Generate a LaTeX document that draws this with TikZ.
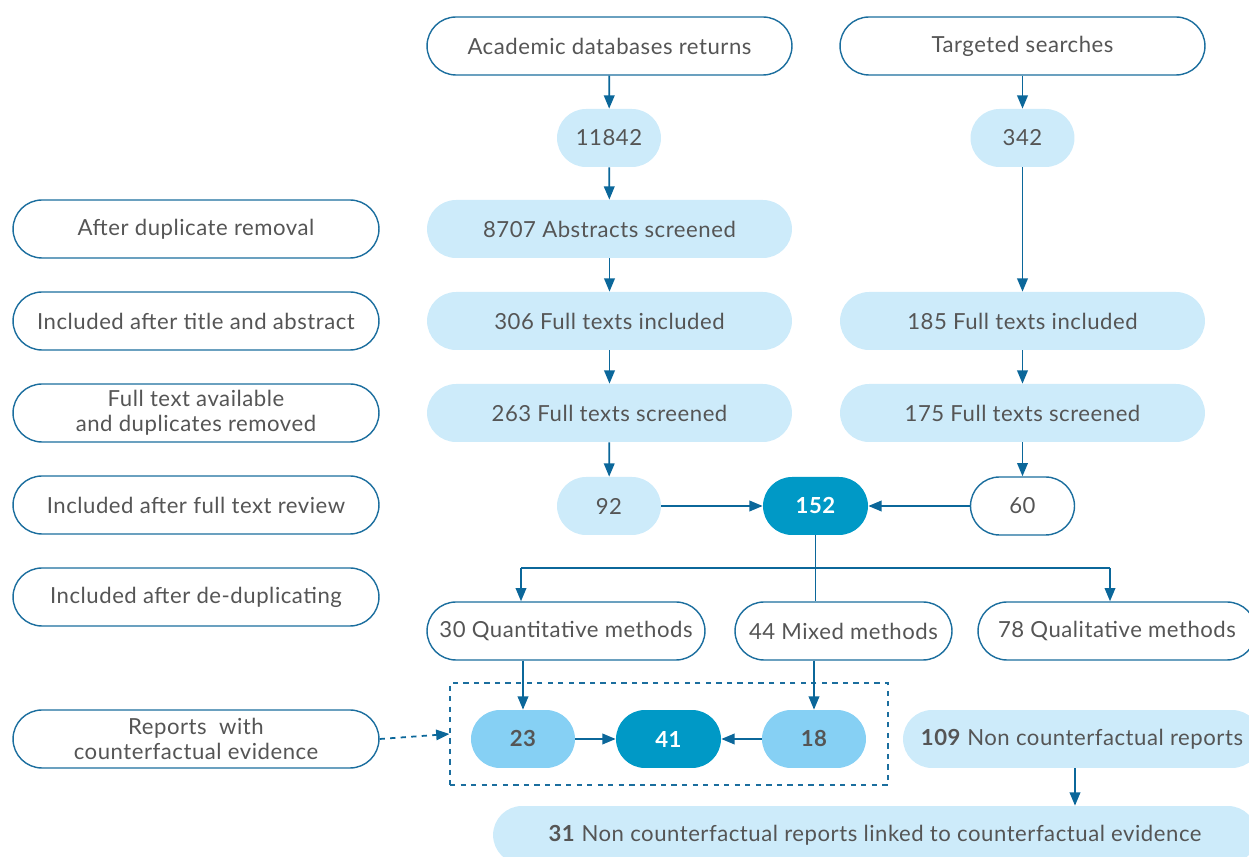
\documentclass[tikz,border=0pt]{standalone}
\usepackage{fontspec}
\setmainfont{Lato}[LetterSpace=2.4]
\usetikzlibrary{arrows.meta}
\definecolor{edgec}{HTML}{1B6E9E}
\definecolor{arrc}{HTML}{0B679A}
\definecolor{lightb}{HTML}{CDEBFA}
\definecolor{midb}{HTML}{86D0F4}
\definecolor{darkb}{HTML}{0099C6}
\definecolor{txtc}{HTML}{555555}
\begin{document}
\begin{tikzpicture}[x=0.02cm,y=-0.02cm,
 box/.style={rectangle, rounded corners=0.58cm, minimum height=1.16cm, inner sep=0pt, text=txtc, font=\fontsize{12.6}{14.5}\selectfont, align=center},
 outl/.style={box, draw=edgec, line width=0.8pt, fill=white},
 lfill/.style={box, fill=lightb},
 mfill/.style={box, fill=midb, font=\fontsize{12.6}{14.5}\selectfont\bfseries},
 dfill/.style={box, fill=darkb, text=white, font=\fontsize{12.6}{14.5}\selectfont\bfseries},
 arw/.style={draw=arrc, line width=1pt, -{Triangle[length=7.5pt,width=6pt]}},
 ln/.style={draw=arrc, line width=1pt},
]
\useasboundingbox (0,0) rectangle (1249,857);
\clip (0,0) rectangle (1249,857);

% top sources
\node[outl, minimum width=7.3cm] (acad) at (609.5,46) {Academic databases returns};
\node[outl, minimum width=7.3cm] (targ) at (1022.5,46) {Targeted searches};
\node[lfill, minimum width=2.08cm] (n11842) at (609,138) {11842};
\node[lfill, minimum width=2.08cm] (n342) at (1022.5,138) {342};

% left labels
\node[outl, minimum width=7.32cm] (l1) at (196,229) {After duplicate removal};
\node[outl, minimum width=7.32cm] (l2) at (196,321) {Included after title and abstract};
\node[outl, minimum width=7.32cm] (l3) at (196,413) {Full text available\\and duplicates removed};
\node[outl, minimum width=7.32cm] (l4) at (196,505) {Included after full text review};
\node[outl, minimum width=7.32cm] (l5) at (196,597) {Included after de-duplicating};
\node[outl, minimum width=7.32cm] (l6) at (196,739) {Reports\ \ with\\counterfactual evidence};

% academic column
\node[lfill, minimum width=7.3cm] (abs) at (609.5,229) {8707 Abstracts screened};
\node[lfill, minimum width=7.3cm] (fti) at (609.5,321) {306 Full texts included};
\node[lfill, minimum width=7.3cm] (fts) at (609.5,413) {263 Full texts screened};
\node[lfill, minimum width=2.08cm] (n92) at (609,506) {92};

% targeted column
\node[lfill, minimum width=7.3cm] (tfti) at (1022.5,321) {185 Full texts included};
\node[lfill, minimum width=7.3cm] (tfts) at (1022.5,413) {175 Full texts screened};
\node[outl, minimum width=2.08cm] (n60) at (1022.5,506) {60};

\node[dfill, minimum width=2.1cm] (n152) at (815.5,506) {152};

% methods
\node[outl, minimum width=5.56cm] (quant) at (566,631) {30 Quantitative methods};
\node[outl, minimum width=4.34cm] (mixed) at (843.5,631) {44 Mixed methods};
\node[outl, minimum width=5.56cm] (qual) at (1117,631) {78 Qualitative methods};

% dashed box and counterfactual
\node[draw=edgec, dashed, line width=0.8pt, rectangle, minimum width=8.76cm, minimum height=2.04cm, inner sep=0pt] (dbox) at (669,734) {};
\node[mfill, minimum width=2.08cm] (n23) at (523,739) {23};
\node[dfill, minimum width=2.1cm] (n41) at (668.5,739) {41};
\node[mfill, minimum width=2.08cm] (n18) at (814,739) {18};

\node[lfill, minimum width=7.16cm] (n109) at (1082,739) {\textbf{109} Non counterfactual reports};
\node[lfill, minimum width=15.28cm] (n31) at (875,835) {\textbf{31} Non counterfactual reports linked to counterfactual evidence};

% arrows
\draw[arw] (acad) -- (n11842);
\draw[arw] (n11842) -- (abs);
\draw[arw] (abs) -- (fti);
\draw[arw] (fti) -- (fts);
\draw[arw] (fts) -- (n92);
\draw[arw] (targ) -- (n342);
\draw[arw] (n342) -- (tfti);
\draw[arw] (tfti) -- (tfts);
\draw[arw] (tfts) -- (n60);
\draw[arw] (n92) -- (n152);
\draw[arw] (n60) -- (n152);

\coordinate (sl) at (521,568);
\coordinate (sr) at (1110,568);
\coordinate (cx) at (1075,0);
\draw[ln] (n152.south) -- (n152.south |- mixed.north);
\draw[ln] (sl) -- (sr);
\draw[arw] (sl) -- (sl |- quant.north);
\draw[arw] (sr) -- (sr |- qual.north);

\draw[arw] (quant.south -| n23) -- (n23.north);
\draw[arw] (n18.north |- mixed.south) -- (n18.north);
\draw[arw] (n23) -- (n41);
\draw[arw] (n18) -- (n41);

\draw[arw, dashed] (l6.east) -- (dbox.west);
\draw[arw] (n109.south -| cx) -- (n31.north -| cx);
\end{tikzpicture}
\end{document}
